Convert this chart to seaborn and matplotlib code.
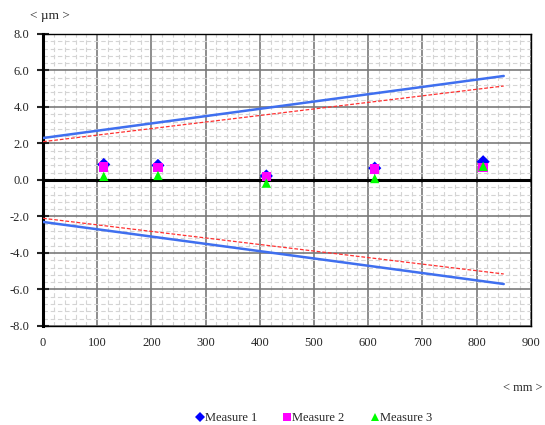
import numpy as np
import pandas as pd
import matplotlib
matplotlib.use('Agg')
import matplotlib.pyplot as plt
import seaborn as sns
from matplotlib.ticker import MultipleLocator, FormatStrFormatter, NullFormatter

# meetpunten (mm) en afwijkingen (µm)
positions = [112, 212, 412, 612, 812]
measure_1 = [0.85, 0.80, 0.22, 0.65, 1.00]
measure_2 = [0.72, 0.70, 0.20, 0.60, 0.68]
measure_3 = [0.20, 0.25, -0.17, 0.08, 0.75]

# tolerantielijnen
limit_x = [0, 850]
limit_outer = [2.3, 5.7]
limit_inner = [2.1, 5.15]

sns.set_style('white')
plt.rcParams['font.family'] = ['Liberation Serif', 'DejaVu Serif']

fig, ax = plt.subplots(figsize=(5.45, 4.25), dpi=100)
fig.subplots_adjust(left=0.079, right=0.974, top=0.92, bottom=0.233)

# raster
ax.xaxis.set_major_locator(MultipleLocator(100))
ax.xaxis.set_minor_locator(MultipleLocator(20))
ax.yaxis.set_major_locator(MultipleLocator(2))
ax.yaxis.set_minor_locator(MultipleLocator(0.4))
ax.grid(which='minor', color='#d4d4d4', linestyle=(0, (4, 2.5)), linewidth=0.8)
ax.grid(which='major', color='#7a7a7a', linestyle='-', linewidth=1.2)
ax.set_axisbelow(True)

lines = pd.DataFrame({
    'x': limit_x * 4,
    'y': limit_outer + [-v for v in limit_outer] + limit_inner + [-v for v in limit_inner],
    'lijn': ['o+'] * 2 + ['o-'] * 2 + ['i+'] * 2 + ['i-'] * 2,
})
for name, color, lw, ls in [('o+', '#3f6fef', 1.8, '-'), ('o-', '#3f6fef', 1.8, '-'),
                            ('i+', '#ff3030', 0.9, (0, (3, 1.5))), ('i-', '#ff3030', 0.9, (0, (3, 1.5)))]:
    sub = lines[lines['lijn'] == name]
    sns.lineplot(data=sub, x='x', y='y', ax=ax, color=color, linewidth=lw,
                 linestyle=ls, legend=False, zorder=3)

pts = pd.DataFrame({
    'x': positions * 3,
    'y': measure_1 + measure_2 + measure_3,
    'serie': ['Measure 1'] * 5 + ['Measure 2'] * 5 + ['Measure 3'] * 5,
})
sns.scatterplot(data=pts, x='x', y='y', hue='serie', style='serie',
                palette={'Measure 1': '#0000ff', 'Measure 2': '#ff00ff', 'Measure 3': '#00ff00'},
                markers={'Measure 1': 'D', 'Measure 2': 's', 'Measure 3': '^'},
                s=45, linewidth=0, ax=ax, zorder=4)

ax.set_xlim(0, 900)
ax.set_ylim(-8, 8)
ax.set_xlabel('')
ax.set_ylabel('')
ax.yaxis.set_major_formatter(FormatStrFormatter('%.1f'))

for side in ['top', 'right', 'bottom']:
    ax.spines[side].set_color('black')
    ax.spines[side].set_linewidth(1.0)
ax.spines['left'].set_color('black')
ax.spines['left'].set_linewidth(2.2)

ax.tick_params(axis='y', which='major', direction='inout', length=8, width=1.5,
               labelsize=9, pad=6, left=True)
ax.tick_params(axis='y', which='minor', length=0)
ax.tick_params(axis='x', which='both', length=0, labelsize=9, pad=8)

# nullijn met streepjes
ax.axhline(0, color='black', linewidth=2.2, zorder=2.5)
zero = ax.secondary_xaxis(0.5)
for side in ['top', 'bottom']:
    zero.spines[side].set_visible(False)
zero.xaxis.set_major_locator(MultipleLocator(100))
zero.xaxis.set_major_formatter(NullFormatter())
zero.tick_params(axis='x', which='major', direction='inout', length=5, width=1.2,
                 labeltop=False, labelbottom=False, color='black')
zero.tick_params(axis='x', which='minor', length=0)

fig.text(0.055, 0.962, '< \u00b5m >', fontsize=9.5, ha='left', va='center')
fig.text(0.995, 0.087, '< mm >', fontsize=9, ha='right', va='center')

handles, labels = ax.get_legend_handles_labels()
ax.legend(handles, labels, loc='lower center', bbox_to_anchor=(0.573, -0.024),
          bbox_transform=fig.transFigure, ncol=3, frameon=False, fontsize=9,
          handletextpad=-0.2, columnspacing=1.8, markerscale=0.8, handlelength=1.2)

plt.savefig('out.png', dpi=100)
